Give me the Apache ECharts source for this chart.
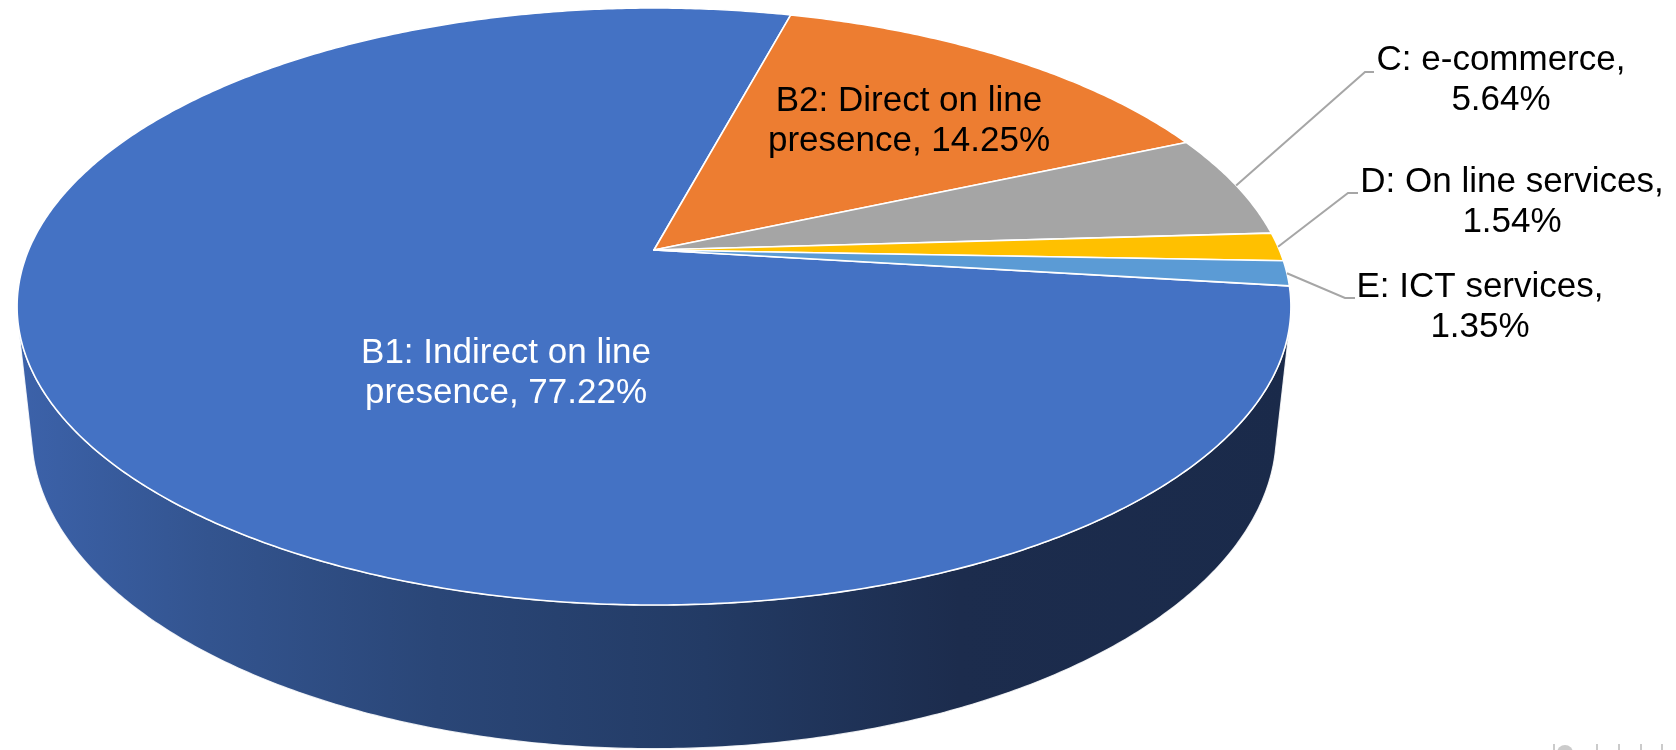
<!DOCTYPE html>
<html>
<head>
<meta charset="utf-8">
<script src="https://cdn.jsdelivr.net/npm/echarts@6/dist/echarts.min.js"></script>
<style>
  html, body { margin: 0; padding: 0; background: #ffffff; }
  #chart { width: 1676px; height: 750px; }
</style>
</head>
<body>
<div id="chart"></div>
<script>
// Share of activity by type of on-line presence
const categories = [
  'B1: Indirect on line\npresence',
  'B2: Direct on line\npresence',
  'C: e-commerce',
  'D: On line services',
  'E: ICT services'
];
const values = [77.22, 14.25, 5.64, 1.54, 1.35];
const colors = ['#4472C4', '#ED7D31', '#A5A5A5', '#FFC000', '#5B9BD5'];

// Camera and solid: centre/radius in pixels, tilt in degrees, camera distance
// and thickness in pie radii, first slice angle clockwise from the far side.
const VIEW = { cx: 654, cy: 250, r: 625.4, tilt: 27.4, dist: 4.69, depth: 0.23, startAngle: 97 };

// Label placement: text centre, and the elbow / end of the leader line.
const LABEL_LAYOUT = [
  { x: 506, y: 373, fill: '#ffffff' },
  { x: 909, y: 121, fill: '#000000' },
  { x: 1501, y: 80, fill: '#000000', elbow: [1365, 72], end: [1374, 72] },
  { x: 1512, y: 202, fill: '#000000', elbow: [1348, 193], end: [1358, 193] },
  { x: 1480, y: 307, fill: '#000000', elbow: [1345, 298], end: [1355, 298] }
];

const DEG = Math.PI / 180;
const sinT = Math.sin(VIEW.tilt * DEG);
const cosT = Math.cos(VIEW.tilt * DEG);

// Perspective projection of a point on the pie (angle, radius fraction, height).
function project(phi, rad, z) {
  const a = phi * DEG;
  const x = rad * Math.sin(a);
  const y = -rad * Math.cos(a);
  const v = -y * sinT + z * cosT;
  const w = y * cosT + z * sinT;
  const k = VIEW.dist / (VIEW.dist - w);
  return [VIEW.cx + VIEW.r * x * k, VIEW.cy - VIEW.r * v * k];
}

function arc(a0, a1, z) {
  const pts = [];
  const n = Math.max(2, Math.ceil(Math.abs(a1 - a0) / 0.5));
  for (let i = 0; i <= n; i++) pts.push(project(a0 + (a1 - a0) * i / n, 1, z));
  return pts;
}

// Angular extent of every slice
const total = values.reduce((s, v) => s + v, 0);
const spans = [];
let acc = VIEW.startAngle;
values.forEach(v => {
  const sweep = v / total * 360;
  spans.push([acc, acc + sweep]);
  acc += sweep;
});

// Part of the rim that faces the camera
const rimLimit = Math.acos(-1 / (VIEW.dist * cosT)) / DEG;
const rimRange = [rimLimit, 360 - rimLimit];

function visibleRim(a0, a1) {
  const parts = [];
  [0, 360, -360].forEach(off => {
    const lo = Math.max(a0, rimRange[0] + off);
    const hi = Math.min(a1, rimRange[1] + off);
    if (hi > lo) parts.push([lo, hi]);
  });
  return parts;
}

const wallFill = new echarts.graphic.LinearGradient(0, 0, 1, 0, [
  { offset: 0, color: '#3c62aa' },
  { offset: 0.15, color: '#33548f' },
  { offset: 0.33, color: '#2a4677' },
  { offset: 0.54, color: '#233b65' },
  { offset: 0.74, color: '#1c2c4d' },
  { offset: 1, color: '#1a2a4a' }
]);

const FONT = '"Liberation Sans", Arial, sans-serif';

function labelText(i) {
  const name = categories[i];
  const sep = name.indexOf('\n') >= 0 ? ', ' : ',\n';
  return name + sep + values[i].toFixed(2) + '%';
}

function renderItem(params, api) {
  const i = params.dataIndex;
  const [a0, a1] = spans[i];
  const children = [];

  visibleRim(a0, a1).forEach(([lo, hi]) => {
    const top = arc(lo, hi, 0);
    const bottom = arc(hi, lo, -VIEW.depth);
    children.push({
      type: 'polygon',
      z2: 1,
      shape: { points: top.concat(bottom) },
      style: { fill: wallFill, stroke: 'rgba(255,255,255,0.85)', lineWidth: 1.2, lineJoin: 'round' }
    });
  });

  const face = [[VIEW.cx, VIEW.cy]].concat(arc(a0, a1, 0));
  children.push({
    type: 'polygon',
    z2: 5,
    shape: { points: face },
    style: { fill: colors[i], stroke: '#ffffff', lineWidth: 1.6, lineJoin: 'round' }
  });

  const lay = LABEL_LAYOUT[i];
  if (lay.elbow) {
    const start = project((a0 + a1) / 2, 1, 0);
    children.push({
      type: 'polyline',
      z2: 8,
      shape: { points: [start, lay.elbow, lay.end] },
      style: { stroke: '#a6a6a6', lineWidth: 2, fill: null }
    });
  }
  children.push({
    type: 'text',
    z2: 10,
    x: lay.x,
    y: lay.y,
    style: {
      text: labelText(i),
      fill: lay.fill,
      fontSize: 35,
      fontFamily: FONT,
      lineHeight: 40,
      align: 'center',
      verticalAlign: 'middle'
    }
  });

  return { type: 'group', children: children };
}

const chart = echarts.init(document.getElementById('chart'), null, { renderer: 'canvas' });
chart.setOption({
  backgroundColor: '#ffffff',
  animation: false,
  series: [{
    type: 'custom',
    coordinateSystem: 'none',
    renderItem: renderItem,
    data: values.map((v, i) => ({ name: categories[i], value: [i, v] }))
  }],
  graphic: [
    { type: 'rect', shape: { x: 1553, y: 744, width: 2, height: 6 }, style: { fill: '#cbcbcb' } },
    { type: 'circle', shape: { cx: 1565, cy: 753, r: 8 }, style: { fill: '#cbcbcb' } },
    { type: 'rect', shape: { x: 1596, y: 744, width: 2, height: 6 }, style: { fill: '#cbcbcb' } },
    { type: 'rect', shape: { x: 1618, y: 744, width: 2, height: 6 }, style: { fill: '#cbcbcb' } },
    { type: 'rect', shape: { x: 1640, y: 744, width: 2, height: 6 }, style: { fill: '#cbcbcb' } },
    { type: 'rect', shape: { x: 1661, y: 744, width: 2, height: 6 }, style: { fill: '#cbcbcb' } }
  ]
});
</script>
</body>
</html>
